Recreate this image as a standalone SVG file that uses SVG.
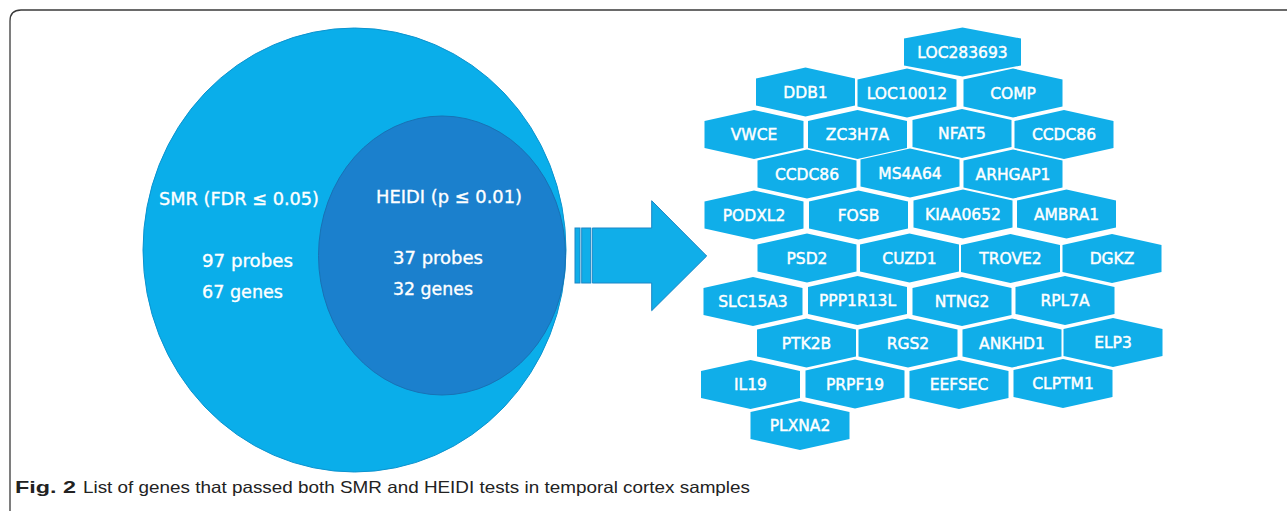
<svg xmlns="http://www.w3.org/2000/svg" width="1287" height="511" viewBox="0 0 1287 511">
<style>
.hex{fill:#10AEE9;}
.ht{font-family:"DejaVu Sans","Liberation Sans",sans-serif;font-size:15.5px;fill:#ffffff;stroke:#ffffff;stroke-width:0.45;text-anchor:middle;}
.vt{font-family:"DejaVu Sans","Liberation Sans",sans-serif;font-size:18px;fill:#ffffff;stroke:#ffffff;stroke-width:0.35;}
.cap{font-family:"Liberation Sans",Arial,sans-serif;font-size:16.5px;fill:#222222;}
</style>
<defs>
<polygon id="hx" points="-49.5,-13.5 0,-24.5 49.5,-13.5 49.5,13.5 0,24.5 -49.5,13.5"/>
<polygon id="hxw" points="-58.5,-13.5 0,-24.5 58.5,-13.5 58.5,13.5 0,24.5 -58.5,13.5"/>
</defs>
<rect width="1287" height="511" fill="#ffffff"/>
<path d="M10,511 V21 Q10,10 21,10 H1287" fill="none" stroke="#3a3a3a" stroke-width="1.3"/>

<g id="smr">
<ellipse cx="354.5" cy="250" rx="211.5" ry="222" fill="#0AAEEA" stroke="#0B93CF" stroke-width="1"/>
<text class="vt" x="159" y="205" textLength="160" lengthAdjust="spacingAndGlyphs">SMR (FDR ≤ 0.05)</text>
<text class="vt" x="202" y="267" textLength="91" lengthAdjust="spacingAndGlyphs">97 probes</text>
<text class="vt" x="202" y="298" textLength="81" lengthAdjust="spacingAndGlyphs">67 genes</text>
</g>
<g id="heidi">
<ellipse cx="442" cy="255.5" rx="123.5" ry="139.5" fill="#1B80CD" stroke="#1872B5" stroke-width="1"/>
<text class="vt" x="376" y="203" textLength="146" lengthAdjust="spacingAndGlyphs">HEIDI (p ≤ 0.01)</text>
<text class="vt" x="393" y="264" textLength="90" lengthAdjust="spacingAndGlyphs">37 probes</text>
<text class="vt" x="393" y="295" textLength="80" lengthAdjust="spacingAndGlyphs">32 genes</text>
</g>

<g id="connectors">
<g fill="#10AEE9" stroke="#1A86C6" stroke-width="1">
<rect x="575" y="228" width="5" height="55"/>
<rect x="581.7" y="228" width="9" height="55"/>
<polygon points="592.3,228 651.7,228 651.7,200.7 706.7,256 651.7,310.7 651.7,283 592.3,283"/>
</g>
</g>

<g id="genes">
<g id="g-LOC283693"><use href="#hxw" x="962.5" y="52" class="hex"/><text class="ht" x="962.5" y="57.5">LOC283693</text></g>

<g id="g-DDB1"><use href="#hx" x="805.5" y="92" class="hex"/><text class="ht" x="805.5" y="97.5">DDB1</text></g>
<g id="g-LOC10012"><use href="#hx" x="907" y="93" class="hex"/><text class="ht" x="907" y="98.5">LOC10012</text></g>
<g id="g-COMP"><use href="#hx" x="1013" y="93" class="hex"/><text class="ht" x="1013" y="98.5">COMP</text></g>

<g id="g-VWCE"><use href="#hx" x="754" y="134.5" class="hex"/><text class="ht" x="754" y="140">VWCE</text></g>
<g id="g-ZC3H7A"><use href="#hx" x="857.5" y="134.5" class="hex"/><text class="ht" x="857.5" y="140">ZC3H7A</text></g>
<g id="g-NFAT5"><use href="#hx" x="962" y="133.5" class="hex"/><text class="ht" x="962" y="139">NFAT5</text></g>
<g id="g-CCDC86a"><use href="#hx" x="1064" y="134.5" class="hex"/><text class="ht" x="1064" y="140">CCDC86</text></g>

<g id="g-CCDC86b"><use href="#hx" x="807" y="174" class="hex"/><text class="ht" x="807" y="179.5">CCDC86</text></g>
<g id="g-MS4A64"><use href="#hx" x="910" y="173" class="hex"/><text class="ht" x="910" y="178.5">MS4A64</text></g>
<g id="g-ARHGAP1"><use href="#hx" x="1013" y="174" class="hex"/><text class="ht" x="1013" y="179.5">ARHGAP1</text></g>

<g id="g-PODXL2"><use href="#hx" x="754" y="215" class="hex"/><text class="ht" x="754" y="220.5">PODXL2</text></g>
<g id="g-FOSB"><use href="#hx" x="858.5" y="215" class="hex"/><text class="ht" x="858.5" y="220.5">FOSB</text></g>
<g id="g-KIAA0652"><use href="#hx" x="963" y="214" class="hex"/><text class="ht" x="963" y="219.5">KIAA0652</text></g>
<g id="g-AMBRA1"><use href="#hx" x="1066.5" y="214" class="hex"/><text class="ht" x="1066.5" y="219.5">AMBRA1</text></g>

<g id="g-PSD2"><use href="#hx" x="807" y="258" class="hex"/><text class="ht" x="807" y="263.5">PSD2</text></g>
<g id="g-CUZD1"><use href="#hx" x="909.5" y="258" class="hex"/><text class="ht" x="909.5" y="263.5">CUZD1</text></g>
<g id="g-TROVE2"><use href="#hx" x="1010.5" y="258.5" class="hex"/><text class="ht" x="1010.5" y="264">TROVE2</text></g>
<g id="g-DGKZ"><use href="#hx" x="1112" y="258.5" class="hex"/><text class="ht" x="1112" y="264">DGKZ</text></g>

<g id="g-SLC15A3"><use href="#hx" x="753" y="301.5" class="hex"/><text class="ht" x="753" y="307">SLC15A3</text></g>
<g id="g-PPP1R13L"><use href="#hx" x="857.5" y="300.5" class="hex"/><text class="ht" x="857.5" y="306">PPP1R13L</text></g>
<g id="g-NTNG2"><use href="#hx" x="962" y="301.5" class="hex"/><text class="ht" x="962" y="307">NTNG2</text></g>
<g id="g-RPL7A"><use href="#hx" x="1065" y="300.5" class="hex"/><text class="ht" x="1065" y="306">RPL7A</text></g>

<g id="g-PTK2B"><use href="#hx" x="806.5" y="343" class="hex"/><text class="ht" x="806.5" y="348.5">PTK2B</text></g>
<g id="g-RGS2"><use href="#hx" x="908" y="343" class="hex"/><text class="ht" x="908" y="348.5">RGS2</text></g>
<g id="g-ANKHD1"><use href="#hx" x="1012" y="343" class="hex"/><text class="ht" x="1012" y="348.5">ANKHD1</text></g>
<g id="g-ELP3"><use href="#hx" x="1113" y="342.5" class="hex"/><text class="ht" x="1113" y="348">ELP3</text></g>

<g id="g-IL19"><use href="#hx" x="750.5" y="384.5" class="hex"/><text class="ht" x="750.5" y="390">IL19</text></g>
<g id="g-PRPF19"><use href="#hx" x="855" y="384" class="hex"/><text class="ht" x="855" y="389.5">PRPF19</text></g>
<g id="g-EEFSEC"><use href="#hx" x="959" y="384.5" class="hex"/><text class="ht" x="959" y="390">EEFSEC</text></g>
<g id="g-CLPTM1"><use href="#hx" x="1063" y="383.5" class="hex"/><text class="ht" x="1063" y="389">CLPTM1</text></g>

<g id="g-PLXNA2"><use href="#hx" x="800" y="425.5" class="hex"/><text class="ht" x="800" y="431">PLXNA2</text></g>
</g>

<g id="caption">
<text class="cap" x="15" y="493"><tspan font-weight="bold" textLength="61" lengthAdjust="spacingAndGlyphs">Fig. 2</tspan></text>
<text class="cap" x="83" y="493" textLength="667" lengthAdjust="spacingAndGlyphs">List of genes that passed both SMR and HEIDI tests in temporal cortex samples</text>
</g>
</svg>
